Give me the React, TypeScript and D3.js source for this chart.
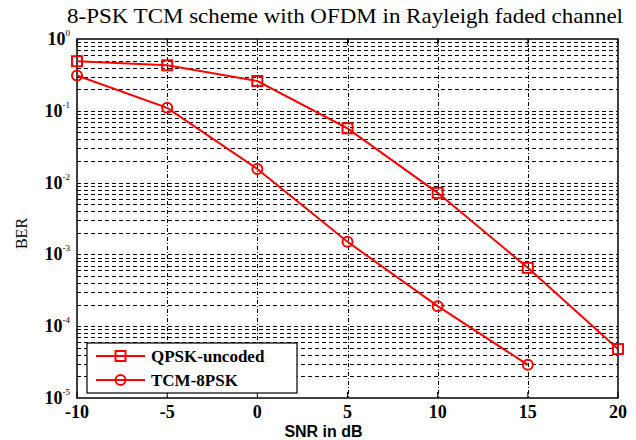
import { useEffect, useRef } from 'react';
import * as d3 from 'd3';

// SNR values (dB) and BER per scheme
const snrQpsk = [-10, -5, 0, 5, 10, 15, 20];
const berQpsk = [0.49, 0.43, 0.26, 0.057, 0.0072, 0.00065, 0.000048];
const snrTcm = [-10, -5, 0, 5, 10, 15];
const berTcm = [0.31, 0.11, 0.0155, 0.0015, 0.00019, 0.000029];
const xTicks = [-10, -5, 0, 5, 10, 15, 20];
const yExponents = [0, -1, -2, -3, -4, -5];
const legendLabels = ['QPSK-uncoded', 'TCM-8PSK'];

const App = () => {
  const svgRef = useRef();

  useEffect(() => {
    const svg = d3.select(svgRef.current);
    svg.selectAll('*').remove();

    const margin = { top: 39, right: 18, bottom: 42, left: 77 };
    const W = 636, H = 440;
    const width = W - margin.left - margin.right;
    const height = H - margin.top - margin.bottom;

    const g = svg.append('g').attr('transform', `translate(${margin.left},${margin.top})`);

    const x = d3.scaleLinear().domain([-10, 20]).range([0, width]);
    const y = d3.scaleLog().domain([1e-5, 1]).range([height, 0]);

    const red = '#ff0000';
    const serif = '"Liberation Serif", "Times New Roman", serif';

    // grid: minor log lines
    const minor = [];
    for (let e = -5; e < 0; e++) {
      for (let m = 1; m <= 9; m++) minor.push(m * Math.pow(10, e));
    }
    g.append('g')
      .selectAll('line')
      .data(minor.filter(v => v > 1e-5))
      .enter()
      .append('line')
      .attr('x1', 0)
      .attr('x2', width)
      .attr('y1', d => Math.round(y(d)) + 0.5)
      .attr('y2', d => Math.round(y(d)) + 0.5)
      .attr('stroke', '#000')
      .attr('stroke-width', 1)
      .attr('stroke-dasharray', '4,3');

    g.append('g')
      .selectAll('line')
      .data(xTicks.slice(1, -1))
      .enter()
      .append('line')
      .attr('x1', d => Math.round(x(d)) + 0.5)
      .attr('x2', d => Math.round(x(d)) + 0.5)
      .attr('y1', 0)
      .attr('y2', height)
      .attr('stroke', '#000')
      .attr('stroke-width', 1)
      .attr('stroke-dasharray', '4,2,1,2');

    // frame
    g.append('rect')
      .attr('x', 0).attr('y', 0)
      .attr('width', width).attr('height', height)
      .attr('fill', 'none')
      .attr('stroke', '#000')
      .attr('stroke-width', 1.5);

    // x ticks inside frame
    xTicks.forEach(t => {
      g.append('line').attr('x1', x(t)).attr('x2', x(t)).attr('y1', height).attr('y2', height - 6).attr('stroke', '#000');
      g.append('line').attr('x1', x(t)).attr('x2', x(t)).attr('y1', 0).attr('y2', 6).attr('stroke', '#000');
      g.append('text')
        .attr('x', x(t))
        .attr('y', height + 20)
        .attr('text-anchor', 'middle')
        .attr('font-family', serif)
        .attr('font-weight', 'bold')
        .attr('font-size', 18)
        .text(t);
    });

    // y tick labels 10^e
    yExponents.forEach(e => {
      const t = g.append('text')
        .attr('x', -7)
        .attr('y', y(Math.pow(10, e)) + 6)
        .attr('text-anchor', 'end')
        .attr('font-family', serif)
        .attr('font-weight', 'bold')
        .attr('font-size', 18);
      t.append('tspan').text('10');
      t.append('tspan')
        .attr('dy', -9)
        .attr('font-size', 9)
        .attr('font-weight', 'normal')
        .text(e);
    });

    // axis titles
    g.append('text')
      .attr('x', width / 2 - 24)
      .attr('y', height + 39)
      .attr('text-anchor', 'middle')
      .attr('font-family', '"Liberation Sans", Arial, sans-serif')
      .attr('font-weight', 'bold')
      .attr('font-size', 16)
      .text('SNR in dB');

    g.append('text')
      .attr('transform', `translate(${-50},${height / 2 + 15}) rotate(-90)`)
      .attr('text-anchor', 'middle')
      .attr('font-family', serif)
      .attr('font-size', 16)
      .text('BER');

    svg.append('text')
      .attr('x', 345)
      .attr('y', 23)
      .attr('text-anchor', 'middle')
      .attr('font-family', serif)
      .attr('font-size', 21)
      .attr('textLength', 556)
      .attr('lengthAdjust', 'spacingAndGlyphs')
      .text('8-PSK TCM scheme with OFDM in Rayleigh faded channel');

    // lines
    const line = d3.line()
      .x(d => x(d[0]))
      .y(d => y(d[1]));

    const qpsk = snrQpsk.map((s, i) => [s, berQpsk[i]]);
    const tcm = snrTcm.map((s, i) => [s, berTcm[i]]);

    [qpsk, tcm].forEach(pts => {
      g.append('path')
        .datum(pts)
        .attr('fill', 'none')
        .attr('stroke', red)
        .attr('stroke-width', 2)
        .attr('d', line);
    });

    g.selectAll('.sq')
      .data(qpsk)
      .enter()
      .append('rect')
      .attr('x', d => x(d[0]) - 5)
      .attr('y', d => y(d[1]) - 5)
      .attr('width', 10)
      .attr('height', 10)
      .attr('fill', 'none')
      .attr('stroke', red)
      .attr('stroke-width', 2);

    g.selectAll('.ci')
      .data(tcm)
      .enter()
      .append('circle')
      .attr('cx', d => x(d[0]))
      .attr('cy', d => y(d[1]))
      .attr('r', 5)
      .attr('fill', 'none')
      .attr('stroke', red)
      .attr('stroke-width', 2);

    // legend
    const lg = svg.append('g').attr('transform', 'translate(87,343)');
    lg.append('rect')
      .attr('x', 0).attr('y', 0)
      .attr('width', 210).attr('height', 50)
      .attr('fill', '#fff')
      .attr('stroke', '#000')
      .attr('stroke-width', 1.2);
    legendLabels.forEach((label, i) => {
      const cy = 13 + i * 24;
      lg.append('line')
        .attr('x1', 9).attr('x2', 58)
        .attr('y1', cy).attr('y2', cy)
        .attr('stroke', red).attr('stroke-width', 2);
      if (i === 0) {
        lg.append('rect')
          .attr('x', 28.5).attr('y', cy - 5)
          .attr('width', 10).attr('height', 10)
          .attr('fill', 'none').attr('stroke', red).attr('stroke-width', 2);
      } else {
        lg.append('circle')
          .attr('cx', 33.5).attr('cy', cy)
          .attr('r', 5)
          .attr('fill', 'none').attr('stroke', red).attr('stroke-width', 2);
      }
      lg.append('text')
        .attr('x', 64)
        .attr('y', cy + 6)
        .attr('font-family', serif)
        .attr('font-weight', 'bold')
        .attr('font-size', 17)
        .text(label);
    });
  }, []);

  return (
    <svg
      ref={svgRef}
      width={636}
      height={440}
      style={{ position: 'absolute', left: 0, top: 0, background: '#fff' }}
    />
  );
};

export default App;
